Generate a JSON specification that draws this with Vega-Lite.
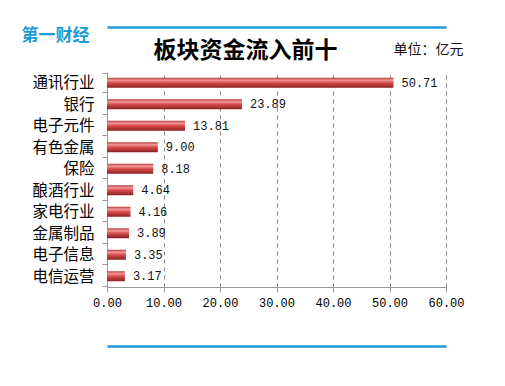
{
  "$schema": "https://vega.github.io/schema/vega-lite/v6.json",
  "width": 339,
  "height": 215,
  "autosize": {"type": "none"},
  "padding": {"left": 107, "top": 72, "right": 59, "bottom": 99},
  "background": "white",
  "title": {"text": "板块资金流入前十", "font": "Noto Sans CJK SC", "fontSize": 23, "fontWeight": "bold", "color": "#000000", "anchor": "middle", "dx": -31, "dy": 46, "offset": 9},
  "data": {"values": [
    {"sector": "通讯行业", "value": 50.71},
    {"sector": "银行", "value": 23.89},
    {"sector": "电子元件", "value": 13.81},
    {"sector": "有色金属", "value": 9.00},
    {"sector": "保险", "value": 8.18},
    {"sector": "酿酒行业", "value": 4.64},
    {"sector": "家电行业", "value": 4.16},
    {"sector": "金属制品", "value": 3.89},
    {"sector": "电子信息", "value": 3.35},
    {"sector": "电信运营", "value": 3.17}
  ]},
  "encoding": {
    "y": {"field": "sector", "type": "nominal", "sort": null,
      "axis": {"title": "单位：亿元", "titleAngle": 0, "titleX": 356, "titleY": -23, "titleAlign": "right", "titleBaseline": "middle", "titleFont": "Noto Sans CJK SC", "titleFontSize": 14, "titleFontWeight": "normal", "titleColor": "#111111",
        "labelFont": "Noto Sans CJK SC", "labelFontSize": 15.5, "labelColor": "#000000", "labelPadding": 8, "tickBand": "extent", "tickSize": 5, "tickColor": "#999999", "domainColor": "#999999", "grid": false}}
  },
  "layer": [
    {"mark": {"type": "bar", "size": 10, "color": {"gradient": "linear", "x1": 0, "y1": 0, "x2": 0, "y2": 1, "stops": [
      {"offset": 0, "color": "#b83a3a"},
      {"offset": 0.25, "color": "#f29a9a"},
      {"offset": 0.5, "color": "#d94c4c"},
      {"offset": 1, "color": "#8c2020"}
    ]}},
      "encoding": {"x": {"field": "value", "type": "quantitative", "scale": {"domain": [0, 60], "nice": false},
      "axis": {"title": "第一财经", "titleX": -52, "titleY": -252, "titleAlign": "center", "titleBaseline": "middle", "titleFont": "Noto Sans CJK SC", "titleFontSize": 17, "titleFontWeight": "bold", "titleColor": "#1a9ad6",
        "values": [0, 10, 20, 30, 40, 50, 60], "format": ".2f", "labelFlush": false, "labelOverlap": false, "labelFont": "Liberation Mono", "labelFontSize": 12, "labelColor": "#000000", "labelPadding": 5, "tickSize": 5, "tickColor": "#999999", "domainColor": "#999999",
        "grid": true, "gridColor": "#888888", "gridDash": [4, 4], "gridWidth": 1}}}},
    {"mark": {"type": "text", "align": "left", "baseline": "middle", "dx": 8, "font": "Liberation Mono", "fontSize": 12, "color": "#111111"},
      "encoding": {"x": {"field": "value", "type": "quantitative", "scale": {"domain": [0, 60], "nice": false}, "axis": null},
        "text": {"field": "value", "type": "quantitative", "format": ".2f"}}},
    {"mark": {"type": "bar", "opacity": 0},
      "encoding": {"x": {"field": "value", "type": "quantitative", "scale": {"domain": [0, 60], "nice": false},
        "axis": {"orient": "top", "offset": 45, "title": null, "labels": false, "ticks": false, "grid": false, "domainColor": "#1a9ad6", "domainWidth": 2.5}}}},
    {"mark": {"type": "bar", "opacity": 0},
      "encoding": {"x": {"field": "value", "type": "quantitative", "scale": {"domain": [0, 60], "nice": false},
        "axis": {"orient": "bottom", "offset": 59, "title": null, "labels": false, "ticks": false, "grid": false, "domainColor": "#1a9ad6", "domainWidth": 2.5}}}}
  ],
  "resolve": {"scale": {"x": "independent"}, "axis": {"x": "independent"}},
  "config": {"view": {"stroke": null}}
}
